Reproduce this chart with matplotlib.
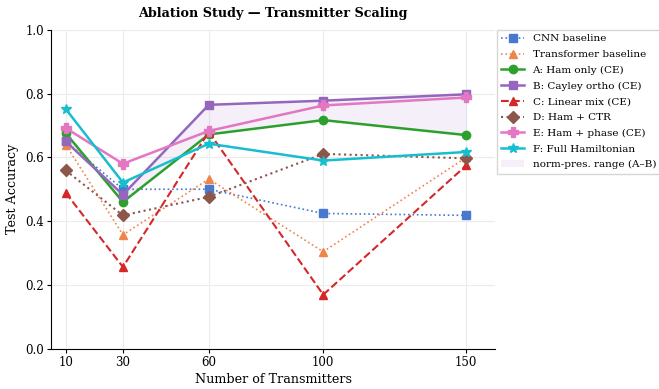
import matplotlib
matplotlib.use("Agg")
import matplotlib.pyplot as plt
import numpy as np

plt.rcParams["font.family"] = ["DejaVu Serif"]

n_tx = [10, 30, 60, 100, 150]

cnn = [0.650, 0.500, 0.500, 0.424, 0.418]
transformer = [0.640, 0.357, 0.532, 0.304, 0.600]
ham_only = [0.676, 0.460, 0.672, 0.717, 0.670]
cayley = [0.650, 0.483, 0.765, 0.778, 0.798]
linear_mix = [0.489, 0.256, 0.680, 0.169, 0.575]
ham_ctr = [0.559, 0.418, 0.476, 0.611, 0.597]
ham_phase = [0.692, 0.580, 0.683, 0.763, 0.788]
full_ham = [0.752, 0.521, 0.643, 0.590, 0.617]

series = [
    ("CNN baseline", cnn, "#4878d0", ":", "s", 1.2),
    ("Transformer baseline", transformer, "#ee854a", ":", "^", 1.2),
    ("A: Ham only (CE)", ham_only, "#2ca02c", "-", "o", 1.8),
    ("B: Cayley ortho (CE)", cayley, "#9467bd", "-", "s", 1.8),
    ("C: Linear mix (CE)", linear_mix, "#d62728", "--", "^", 1.5),
    ("D: Ham + CTR", ham_ctr, "#8c564b", ":", "D", 1.5),
    ("E: Ham + phase (CE)", ham_phase, "#e377c2", "-", "P", 1.8),
    ("F: Full Hamiltonian", full_ham, "#17becf", "-", "*", 1.8),
]

fig = plt.figure(figsize=(6.59, 3.89), dpi=100)
ax = fig.add_axes([0.078, 0.104, 0.673, 0.819])

for label, values, color, ls, marker, lw in series:
    ms = 7 if marker in ("*", "P") else 6
    ax.plot(n_tx, values, color=color, linestyle=ls, marker=marker,
            linewidth=lw, markersize=ms, label=label)

ax.fill_between(n_tx, ham_only, cayley, color="#9467bd", alpha=0.1,
                linewidth=0, label="norm-pres. range (A–B)")

ax.set_xlim(5, 160)
ax.set_ylim(0, 1.0)
ax.set_xticks(n_tx)
ax.set_yticks(np.arange(0, 1.01, 0.2))
ax.tick_params(labelsize=8.5, length=3, pad=2.5)
ax.grid(True, color="#ececec", linewidth=0.8)
ax.set_axisbelow(True)
ax.spines["top"].set_visible(False)
ax.spines["right"].set_visible(False)

ax.set_xlabel("Number of Transmitters", fontsize=9.2, labelpad=3)
ax.set_ylabel("Test Accuracy", fontsize=9.2)
ax.set_title("Ablation Study — Transmitter Scaling", fontsize=9.2,
             fontweight="bold", pad=9)

ax.legend(loc="upper left", bbox_to_anchor=(1.005, 1.0), fontsize=7.5,
          frameon=True, fancybox=False, edgecolor="#cccccc",
          borderaxespad=0, handlelength=2.2, labelspacing=0.62)

fig.savefig("out.png", dpi=100)
